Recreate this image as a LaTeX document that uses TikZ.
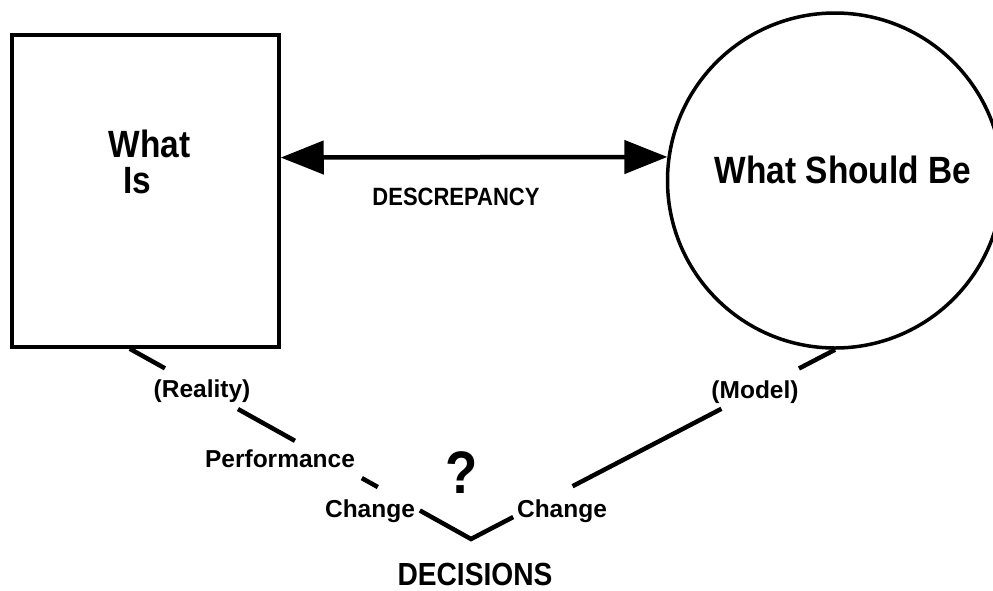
\documentclass[tikz,border=0pt]{standalone}
\usepackage{fontspec}
\newfontfamily\plotfont[FakeStretch=0.88]{Liberation Sans}
\newfontfamily\plotwide{Liberation Sans}
\usetikzlibrary{arrows.meta,calc}
\begin{document}
\begin{tikzpicture}[x=1pt,y=-1pt,
  every node/.style={font=\plotfont\bfseries},
  frame/.style={draw,line width=3.5pt,inner sep=0pt},
  label/.style={anchor=base,inner sep=0pt},
  title/.style={label,font=\plotfont\bfseries\fontsize{38}{38}\selectfont},
  small/.style={label,font=\plotwide\bfseries\fontsize{24.5}{24.5}\selectfont},
  link/.style={line width=4.5pt},
  gap/.style={line width=4.5pt,{Triangle[length=43pt,width=33pt]}-{Triangle[length=43pt,width=33pt]}},
]
\clip (0,0) rectangle (993,590);
\fill[white] (0,0) rectangle (993,590);

% the two poles
\node[frame,rectangle,minimum width=267pt,minimum height=312pt] (is) at (145.5,191) {};
\node[frame,circle,minimum size=335pt] (shouldbe) at (835,180.5) {};

\node[title] (what) at (149.5,157) {What};
\node[title] (isword) at (137.5,193) {Is};
\node[title] (sb) at (843,183) {What Should Be};

% discrepancy arrow between them
\coordinate (gapL) at ($(is.north east)!0.394!(is.south east)$);
\draw[gap] (gapL) -- (shouldbe.172.3);
\node[label,font=\plotfont\bfseries\fontsize{25}{25}\selectfont] (desc) at (456,205) {DESCREPANCY};

% the two legs meeting at the decision point
\coordinate (realfoot) at ($(is.south west)!0.442!(is.south east)$);
\coordinate (modelfoot) at (shouldbe.south);
\coordinate (decide) at (471,539);

\draw[link] (realfoot) -- ($(realfoot)!0.103!(decide)$);
\draw[link] ($(realfoot)!0.317!(decide)$) -- ($(realfoot)!0.484!(decide)$);
\draw[link] ($(realfoot)!0.680!(decide)$) -- ($(realfoot)!0.727!(decide)$);
\draw[link] ($(realfoot)!0.850!(decide)$) -- (decide) -- ($(modelfoot)!0.884!(decide)$);
\draw[link] ($(modelfoot)!0.312!(decide)$) -- ($(modelfoot)!0.721!(decide)$);
\draw[link] (modelfoot) -- ($(modelfoot)!0.099!(decide)$);

\node[small] (reality) at (202,397) {(Reality)};
\node[small] (model) at (755,398) {(Model)};
\node[small] (perf) at (280,467) {Performance};
\node[small] (changeL) at (370,517) {Change};
\node[small] (changeR) at (562,517) {Change};
\node[label,font=\plotfont\bfseries\fontsize{60}{60}\selectfont] (query) at (462,493) {?};
\node[label,font=\plotfont\bfseries\fontsize{32}{32}\selectfont] (decisions) at (475,585) {DECISIONS};
\end{tikzpicture}
\end{document}
